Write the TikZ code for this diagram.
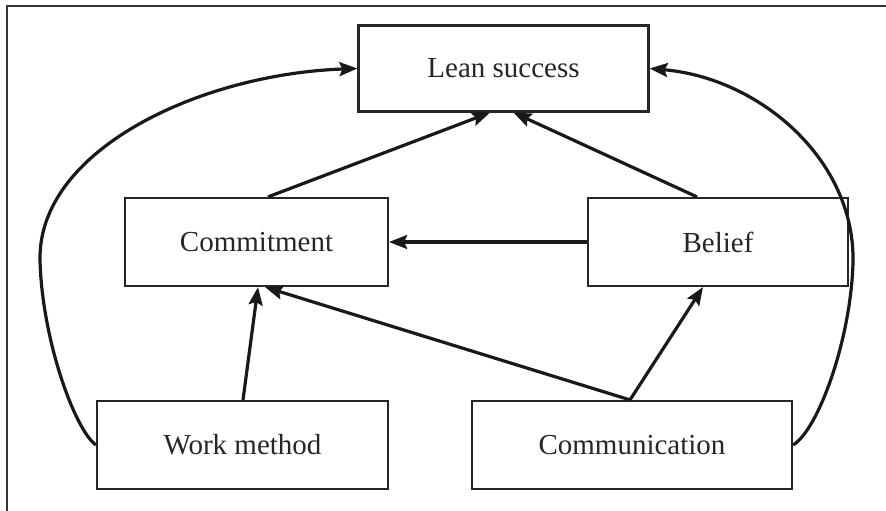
\documentclass[tikz,border=0pt]{standalone}
\usepackage{fontspec}
\setmainfont{Liberation Serif}
\usetikzlibrary{arrows.meta}
\begin{document}
\begin{tikzpicture}[x=1pt,y=-1pt,
  box/.style={draw=black!85,line width=2.2pt,inner sep=0pt,
    font=\fontsize{29}{34}\selectfont,text=black!85},
  arr/.style={draw=black!90,line width=3.2pt,-{Stealth[length=18pt,width=14pt,inset=3pt]}},
  frame/.style={draw=black!80,line width=2.2pt}]
\useasboundingbox (0,0) rectangle (886,511);
\fill[white] (0,0) rectangle (886,511);
\coordinate (f1) at (886,6);
\coordinate (f2) at (7,6);
\coordinate (f3) at (7,511);
\draw[frame] (f1) -- (f2) -- (f3);
\node[box,minimum width=290pt,minimum height=86pt] (lean) at (503.5,68.5) {Lean success};
\node[box,minimum width=263pt,minimum height=88pt] (comm) at (256.5,242) {Commitment};
\node[box,minimum width=260pt,minimum height=88pt] (belief) at (718,242) {Belief};
\node[box,minimum width=291pt,minimum height=88pt] (wm) at (242.5,445) {Work method};
\node[box,minimum width=320pt,minimum height=88pt] (com) at (632,445) {Communication};
\draw[arr] ([xshift=11.5pt]comm.north) -- ([xshift=-13.5pt]lean.south);
\draw[arr] ([xshift=-21pt]belief.north) -- ([xshift=10pt]lean.south);
\draw[arr] (belief.west) -- (comm.east);
\draw[arr] ([xshift=0.5pt]wm.north) -- ([xshift=1.5pt]comm.south);
\draw[arr] ([xshift=-2pt]com.north) -- ([xshift=8.5pt]comm.south);
\draw[arr] ([xshift=-2pt]com.north) -- ([xshift=-15pt]belief.south);
\coordinate (lc) at (40,260);
\coordinate (rc) at (853,262);
\draw[arr] (wm.west) .. controls (75,430) and (42,340) .. (lc)
  .. controls (38,150) and (200,74) .. (lean.west);
\draw[arr] (com.east) .. controls (818,430) and (851,340) .. (rc)
  .. controls (855,160) and (760,78) .. (lean.east);
\end{tikzpicture}
\end{document}
